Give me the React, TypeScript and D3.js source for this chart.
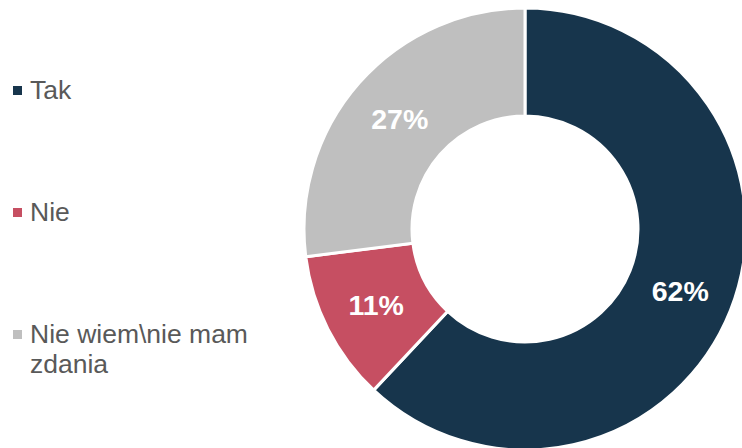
import React, { useEffect, useRef } from 'react';
import * as d3 from 'd3';

const categories = ['Tak', 'Nie', 'Nie wiem\\nie mam zdania'];
const values = [62, 11, 27];
const colors = ['#17354C', '#C64F62', '#BFBFBF'];
const legendLines = [['Tak'], ['Nie'], ['Nie wiem\\nie mam', 'zdania']];

type Slice = { name: string; value: number; color: string };

const App: React.FC = () => {
  const svgRef = useRef<SVGSVGElement | null>(null);

  useEffect(() => {
    if (!svgRef.current) return;
    const width = 742;
    const height = 448;
    const cx = 525;
    const cy = 229;
    const outerR = 221;
    const innerR = 113;

    const svg = d3.select(svgRef.current);
    svg.selectAll('*').remove();

    const data: Slice[] = categories.map((c, i) => ({ name: c, value: values[i], color: colors[i] }));

    const pie = d3.pie<Slice>().sort(null).value((d) => d.value);
    const arc = d3.arc<d3.PieArcDatum<Slice>>().innerRadius(innerR).outerRadius(outerR);

    const g = svg.append('g').attr('transform', `translate(${cx},${cy})`);
    const arcs = pie(data);

    g.selectAll('path')
      .data(arcs)
      .enter()
      .append('path')
      .attr('d', arc)
      .attr('fill', (d) => d.data.color)
      .attr('stroke', '#ffffff')
      .attr('stroke-width', 3);

    g.selectAll('text.lbl')
      .data(arcs)
      .enter()
      .append('text')
      .attr('class', 'lbl')
      .attr('transform', (d) => `translate(${arc.centroid(d)})`)
      .attr('text-anchor', 'middle')
      .attr('dy', '0.36em')
      .attr('fill', '#ffffff')
      .attr('font-family', 'Liberation Sans, Arial, sans-serif')
      .attr('font-weight', 'bold')
      .attr('font-size', '28.5px')
      .text((d) => `${d.data.value}%`);

    // Legend
    const legendY = d3.scalePoint<number>().domain([0, 1, 2]).range([99, 343]);
    const legend = svg.append('g');
    legendLines.forEach((lines, i) => {
      const y = legendY(i) as number;
      legend
        .append('rect')
        .attr('x', 13)
        .attr('y', y - 13)
        .attr('width', 9)
        .attr('height', 9)
        .attr('fill', colors[i]);
      const t = legend
        .append('text')
        .attr('x', 30)
        .attr('y', y)
        .attr('fill', '#595959')
        .attr('font-family', 'Liberation Sans, Arial, sans-serif')
        .attr('font-size', '26.5px');
      lines.forEach((ln, j) => {
        t.append('tspan').attr('x', 30).attr('y', y + j * 30).text(ln);
      });
    });

    svg.attr('width', width).attr('height', height);
  }, []);

  return (
    <svg
      ref={svgRef}
      width={742}
      height={448}
      style={{ position: 'absolute', left: 0, top: 0, background: '#ffffff' }}
    />
  );
};

export default App;
